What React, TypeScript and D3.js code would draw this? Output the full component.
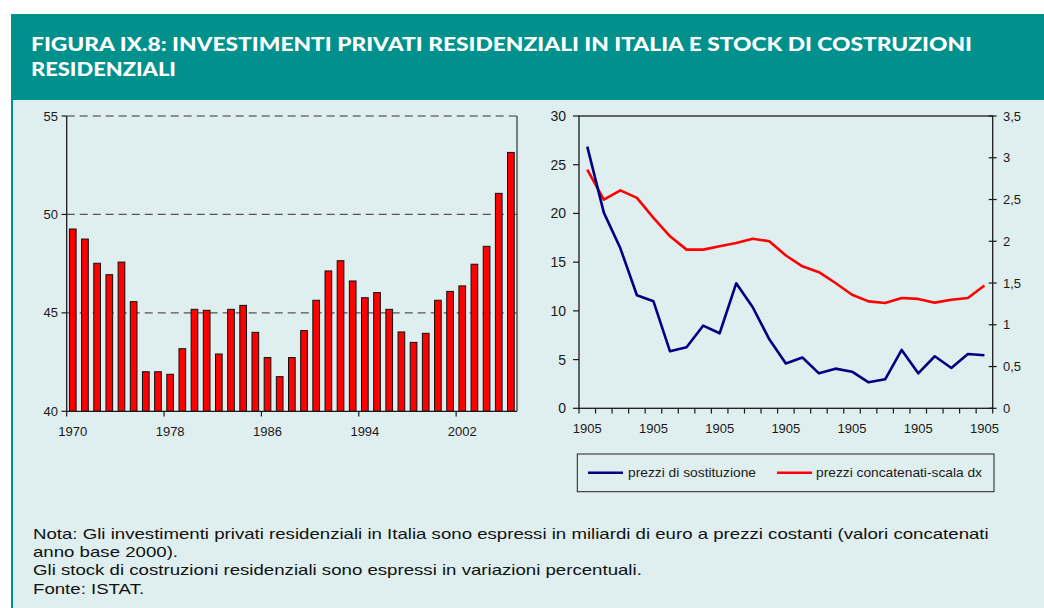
import React from "react";
import * as d3 from "d3";

const W = 1044;
const H = 608;

// ---- Left chart data: private residential investment (bn euro, chained 2000 prices)
const investYears = [
  "1970", "1971", "1972", "1973", "1974", "1975", "1976", "1977", "1978", "1979",
  "1980", "1981", "1982", "1983", "1984", "1985", "1986", "1987", "1988", "1989",
  "1990", "1991", "1992", "1993", "1994", "1995", "1996", "1997", "1998", "1999",
  "2000", "2001", "2002", "2003", "2004", "2005", "2006",
];
const investValues = [
  49.26, 48.75, 47.52, 46.94, 47.58, 45.57, 42.01, 42.01, 41.88, 43.18,
  45.18, 45.13, 42.91, 45.18, 45.38, 44.01, 42.73, 41.76, 42.73, 44.1,
  45.64, 47.13, 47.65, 46.62, 45.77, 46.03, 45.18, 44.03, 43.5, 43.96,
  45.64, 46.09, 46.37, 47.47, 48.38, 51.07, 53.15,
];
const investTickYears = ["1970", "1978", "1986", "1994", "2002"];
const investYTicks = [40, 45, 50, 55];
const investGridTicks = [45, 50, 55];

// ---- Right chart data: stock of residential buildings (% changes)
const stockCategories = [
  "1905", "1905", "1905", "1905", "1905", "1905", "1905", "1905", "1905", "1905",
  "1905", "1905", "1905", "1905", "1905", "1905", "1905", "1905", "1905", "1905",
  "1905", "1905", "1905", "1905", "1905",
];
const stockReplacement = [
  26.86, 20.08, 16.42, 11.6, 10.98, 5.85, 6.26, 8.48, 7.7, 12.83,
  10.37, 7.08, 4.6, 5.22, 3.59, 4.07, 3.76, 2.67, 2.98, 5.99,
  3.59, 5.34, 4.14, 5.58, 5.44,
];
const stockChained = [
  2.857, 2.498, 2.61, 2.52, 2.28, 2.06, 1.9, 1.9, 1.94, 1.98,
  2.03, 2.0, 1.83, 1.7, 1.63, 1.5, 1.36, 1.28, 1.26, 1.32,
  1.31, 1.265, 1.3, 1.32, 1.47,
];
const stockLeftTicks = [0, 5, 10, 15, 20, 25, 30];
const stockRightTicks = [0, 0.5, 1, 1.5, 2, 2.5, 3, 3.5];
const seriesNames = ["prezzi di sostituzione", "prezzi concatenati-scala dx"];

const titleLines = [
  "FIGURA IX.8: INVESTIMENTI PRIVATI RESIDENZIALI IN ITALIA E STOCK DI COSTRUZIONI",
  "RESIDENZIALI",
];
const noteLines = [
  "Nota: Gli investimenti privati residenziali in Italia sono espressi in miliardi di euro a prezzi costanti (valori concatenati",
  "anno base 2000).",
  "Gli stock di costruzioni residenziali sono espressi in variazioni percentuali.",
  "Fonte: ISTAT.",
];

const TEAL = "#00918d";
const BG = "#dfeeee";
const AX = "#1a1a1a";
const FONT = "'Liberation Sans', Arial, sans-serif";

export default function App() {
  // Left chart scales
  const lx = d3
    .scaleBand<string>()
    .domain(investYears)
    .range([66.7, 517])
    .paddingInner(0.45)
    .paddingOuter(0.225);
  const ly = d3.scaleLinear().domain([40, 55]).range([411.3, 116]);
  const lStep = lx.step();
  const lLeft = (yr: string) => (lx(yr) as number) - lStep * 0.225;

  // Right chart scales
  const idx = stockCategories.map((_, i) => i);
  const rx = d3.scaleBand<number>().domain(idx).range([579, 992.7]).padding(0);
  const rBw = rx.bandwidth();
  const rcx = (i: number) => (rx(i) as number) + rBw / 2;
  const ryL = d3.scaleLinear().domain([0, 30]).range([408.3, 116]);
  const ryR = d3.scaleLinear().domain([0, 3.5]).range([408.3, 116]);

  const blueLine = d3
    .line<number>()
    .x((_, i) => rcx(i))
    .y((d) => ryL(d));
  const redLine = d3
    .line<number>()
    .x((_, i) => rcx(i))
    .y((d) => ryR(d));

  const fmtIt = (v: number) => String(v).replace(".", ",");

  return (
    <svg
      width={W}
      height={H}
      style={{ position: "absolute", left: 0, top: 0, display: "block" }}
      fontFamily={FONT}
    >
      <rect x={0} y={0} width={W} height={H} fill="#ffffff" />
      {/* Body */}
      <rect x={11} y={100} width={W - 11} height={H - 100} fill={BG} />
      <rect x={11} y={100} width={2} height={H - 100} fill={TEAL} />
      {/* Header */}
      <rect x={11} y={14} width={W - 11} height={86} fill={TEAL} />
      <text
        x={31}
        y={50.5}
        fill="#ffffff"
        fontFamily="Lato, 'DejaVu Sans', sans-serif"
        fontWeight={900}
        fontSize={18.5}
        textLength={941}
        lengthAdjust="spacingAndGlyphs"
      >
        {titleLines[0]}
      </text>
      <text
        x={31}
        y={75.5}
        fill="#ffffff"
        fontFamily="Lato, 'DejaVu Sans', sans-serif"
        fontWeight={900}
        fontSize={18.5}
        textLength={145}
        lengthAdjust="spacingAndGlyphs"
      >
        {titleLines[1]}
      </text>

      {/* ---------- Left chart ---------- */}
      {investGridTicks.map((t) => (
        <line
          key={"g" + t}
          x1={66.7}
          x2={517}
          y1={ly(t)}
          y2={ly(t)}
          stroke={t === 55 ? "#333" : "#555"}
          strokeWidth={1.2}
          strokeDasharray="8,5"
        />
      ))}
      {investYears.map((yr, i) => (
        <rect
          key={yr}
          x={lx(yr) as number}
          y={ly(investValues[i])}
          width={lx.bandwidth()}
          height={ly(40) - ly(investValues[i])}
          fill="#ff0000"
          stroke="#111"
          strokeWidth={1}
        />
      ))}
      {/* axes */}
      <line x1={66.7} x2={66.7} y1={116} y2={411.3} stroke={AX} strokeWidth={1.3} />
      <line x1={517} x2={517} y1={116} y2={411.3} stroke="#333" strokeWidth={1.2} />
      <line x1={66.7} x2={517} y1={411.3} y2={411.3} stroke={AX} strokeWidth={1.3} />
      {investYTicks.map((t) => (
        <g key={"ly" + t}>
          <line x1={61.5} x2={66.7} y1={ly(t)} y2={ly(t)} stroke={AX} strokeWidth={1.2} />
          <text x={58} y={ly(t) + 4.5} textAnchor="end" fontSize={13} fill={AX}>
            {t}
          </text>
        </g>
      ))}
      {investTickYears.map((yr) => (
        <g key={"lx" + yr}>
          <line
            x1={lLeft(yr)}
            x2={lLeft(yr)}
            y1={411.3}
            y2={416.5}
            stroke={AX}
            strokeWidth={1.2}
          />
          <text
            x={(lx(yr) as number) + lx.bandwidth() / 2}
            y={436}
            textAnchor="middle"
            fontSize={13}
            fill={AX}
          >
            {yr}
          </text>
        </g>
      ))}

      {/* ---------- Right chart ---------- */}
      <rect x={579} y={116} width={992.7 - 579} height={408.3 - 116} fill="none" stroke={AX} strokeWidth={1.3} />
      {stockLeftTicks.map((t) => (
        <g key={"rl" + t}>
          <line x1={573} x2={579} y1={ryL(t)} y2={ryL(t)} stroke={AX} strokeWidth={1.2} />
          <text x={566} y={ryL(t) + 5} textAnchor="end" fontSize={14} fill={AX}>
            {t}
          </text>
        </g>
      ))}
      {stockRightTicks.map((t) => (
        <g key={"rr" + t}>
          <line x1={988.7} x2={996.7} y1={ryR(t)} y2={ryR(t)} stroke={AX} strokeWidth={1.2} />
          <text x={1003} y={ryR(t) + 4.5} textAnchor="start" fontSize={13} fill={AX}>
            {fmtIt(t)}
          </text>
        </g>
      ))}
      {[...idx, stockCategories.length].map((i) => {
        const x = i < stockCategories.length ? (rx(i) as number) : 992.7;
        return (
          <line key={"rt" + i} x1={x} x2={x} y1={408.3} y2={413.5} stroke={AX} strokeWidth={1.2} />
        );
      })}
      {stockCategories.map((lab, i) =>
        i % 4 === 0 ? (
          <text key={"rlab" + i} x={rcx(i)} y={433} textAnchor="middle" fontSize={13} fill={AX}>
            {lab}
          </text>
        ) : null
      )}
      <path d={redLine(stockChained) || ""} fill="none" stroke="#ff0000" strokeWidth={2.6} strokeLinejoin="round" />
      <path d={blueLine(stockReplacement) || ""} fill="none" stroke="#000080" strokeWidth={2.6} strokeLinejoin="round" />

      {/* legend */}
      <rect x={577.3} y={454} width={416.7} height={37.7} fill={BG} stroke="#222" strokeWidth={1} />
      <line x1={588} x2={623} y1={472.7} y2={472.7} stroke="#000080" strokeWidth={2.6} />
      <text x={628} y={477.2} fontSize={13} fill={AX} textLength={128} lengthAdjust="spacingAndGlyphs">
        {seriesNames[0]}
      </text>
      <line x1={777} x2={812} y1={472.7} y2={472.7} stroke="#ff0000" strokeWidth={2.6} />
      <text x={816} y={477.2} fontSize={13} fill={AX} textLength={166} lengthAdjust="spacingAndGlyphs">
        {seriesNames[1]}
      </text>

      {/* notes (horizontally stretched as in the reference) */}
      <g transform="translate(33,0) scale(1.243,1)">
        {noteLines.map((ln, i) => (
          <text key={"n" + i} x={0} y={[539, 557, 575.5, 594][i]} fontSize={15} fill="#111">
            {ln}
          </text>
        ))}
      </g>
    </svg>
  );
}
